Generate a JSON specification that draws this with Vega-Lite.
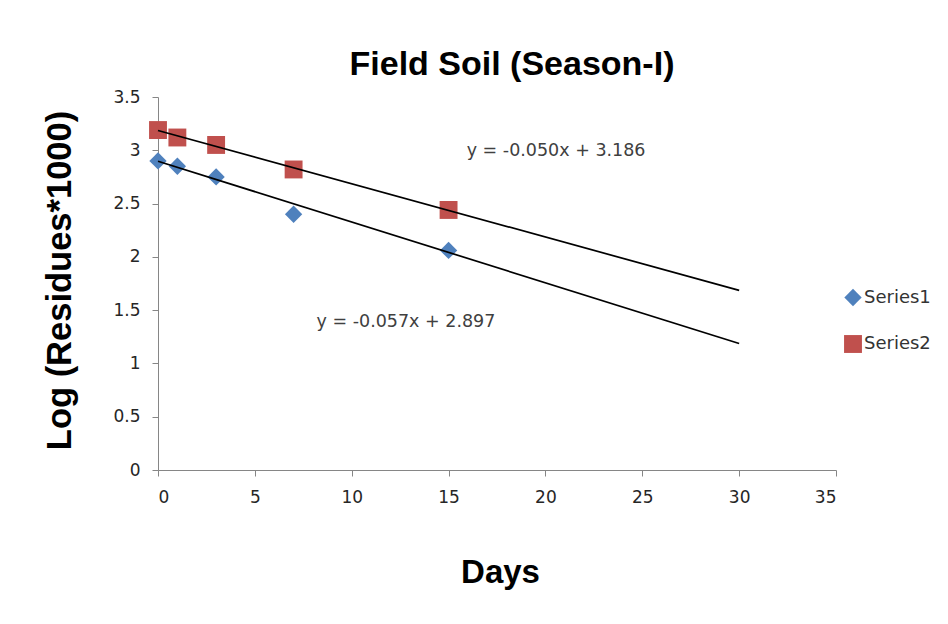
{
  "$schema": "https://vega.github.io/schema/vega-lite/v6.json",
  "width": 678,
  "height": 373,
  "autosize": {"type": "none"},
  "padding": {"left": 158, "top": 97, "right": 112, "bottom": 154},
  "background": "white",
  "datasets": {
    "points": [
      {"series": "Series1", "day": 0, "value": 2.90},
      {"series": "Series1", "day": 1, "value": 2.85},
      {"series": "Series1", "day": 3, "value": 2.75},
      {"series": "Series1", "day": 7, "value": 2.40},
      {"series": "Series1", "day": 15, "value": 2.06},
      {"series": "Series2", "day": 0, "value": 3.19},
      {"series": "Series2", "day": 1, "value": 3.12},
      {"series": "Series2", "day": 3, "value": 3.05},
      {"series": "Series2", "day": 7, "value": 2.82},
      {"series": "Series2", "day": 15, "value": 2.44}
    ],
    "trend": [
      {"series": "Series1", "day": 0, "value": 2.897},
      {"series": "Series1", "day": 30, "value": 1.187},
      {"series": "Series2", "day": 0, "value": 3.186},
      {"series": "Series2", "day": 30, "value": 1.686}
    ],
    "eq": [
      {"label": "y = -0.050x + 3.186", "day": 20.55, "value": 2.99},
      {"label": "y = -0.057x + 2.897", "day": 12.8, "value": 1.39}
    ]
  },
  "title": {
    "text": "Field Soil (Season-I)",
    "font": "Liberation Sans",
    "fontSize": 34,
    "fontWeight": "bold",
    "color": "#000000",
    "frame": "group",
    "anchor": "middle",
    "dx": 15,
    "offset": 6
  },
  "config": {
    "view": {"stroke": null},
    "axis": {
      "grid": false,
      "domainColor": "#868686",
      "tickColor": "#868686",
      "tickSize": 6,
      "labelFont": "DejaVu Sans",
      "labelFontSize": 17,
      "labelColor": "#262626",
      "labelOverlap": false,
      "titleFont": "Liberation Sans",
      "titleFontWeight": "bold",
      "titleColor": "#000000"
    }
  },
  "layer": [
    {
      "data": {"name": "points"},
      "mark": {"type": "point", "filled": true, "opacity": 1},
      "encoding": {
        "x": {
          "field": "day", "type": "quantitative",
          "scale": {"domain": [0, 35], "nice": false},
          "axis": {
            "values": [0, 5, 10, 15, 20, 25, 30, 35],
            "labelPadding": 13,
            "title": "Days",
            "titleFontSize": 33,
            "titleX": 342,
            "titleY": 102,
            "titleBaseline": "middle",
            "titleAlign": "center"
          }
        },
        "y": {
          "field": "value", "type": "quantitative",
          "scale": {"domain": [0, 3.5], "nice": false},
          "axis": {
            "values": [0, 0.5, 1, 1.5, 2, 2.5, 3, 3.5],
            "format": "~g",
            "labelPadding": 12,
            "title": "Log (Residues*1000)",
            "titleFontSize": 34.5,
            "titleAngle": -90,
            "titleX": -98,
            "titleY": 183,
            "titleBaseline": "middle",
            "titleAlign": "center"
          }
        },
        "color": {
          "field": "series", "type": "nominal",
          "scale": {"domain": ["Series1", "Series2"], "range": ["#4F81BD", "#C0504D"]},
          "legend": {
            "title": null,
            "orient": "none",
            "legendX": 685,
            "legendY": 191,
            "padding": 0,
            "rowPadding": 22,
            "symbolSize": 220,
            "symbolOpacity": 1,
            "labelFont": "DejaVu Sans",
            "labelFontSize": 18,
            "labelColor": "#333333",
            "labelOffset": 1
          }
        },
        "shape": {
          "field": "series", "type": "nominal",
          "scale": {"domain": ["Series1", "Series2"], "range": ["diamond", "square"]}
        },
        "size": {
          "field": "series", "type": "nominal",
          "scale": {"domain": ["Series1", "Series2"], "range": [300, 320]},
          "legend": null
        }
      }
    },
    {
      "data": {"name": "trend"},
      "mark": {"type": "line", "color": "#000000", "strokeWidth": 1.7},
      "encoding": {
        "x": {"field": "day", "type": "quantitative"},
        "y": {"field": "value", "type": "quantitative"},
        "detail": {"field": "series", "type": "nominal"}
      }
    },
    {
      "data": {"name": "eq"},
      "mark": {"type": "text", "font": "DejaVu Sans", "fontSize": 17.5, "color": "#404040", "align": "center", "baseline": "middle"},
      "encoding": {
        "x": {"field": "day", "type": "quantitative"},
        "y": {"field": "value", "type": "quantitative"},
        "text": {"field": "label", "type": "nominal"}
      }
    }
  ]
}
